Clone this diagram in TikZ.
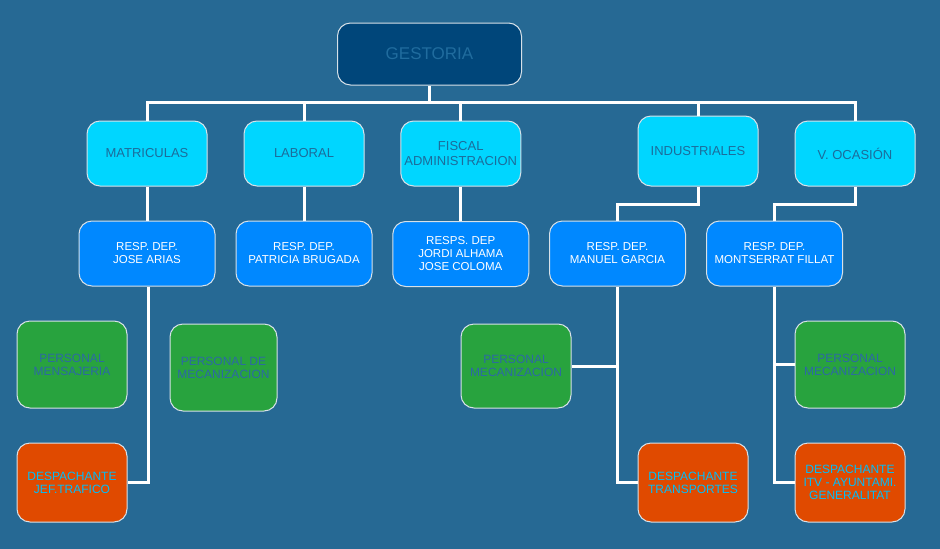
\documentclass[tikz,border=0pt]{standalone}
\usepackage{fontspec}
\setmainfont{Liberation Sans}
\definecolor{bg}{RGB}{38,105,148}
\definecolor{navy}{RGB}{0,70,122}
\definecolor{navytxt}{RGB}{32,108,158}
\definecolor{cyanbox}{RGB}{0,214,255}
\definecolor{cyantxt}{RGB}{28,108,155}
\definecolor{bluebox}{RGB}{0,136,255}
\definecolor{greenbox}{RGB}{40,163,62}
\definecolor{greentxt}{RGB}{45,104,165}
\definecolor{orangebox}{RGB}{224,74,0}
\definecolor{orangetxt}{RGB}{0,190,250}
\definecolor{edge}{RGB}{215,225,232}
\tikzset{
  box/.style={draw=edge, line width=1pt, rounded corners=13pt, align=center, inner sep=0pt},
  topbox/.style={box, fill=navy, text=navytxt, font=\fontsize{17}{20}\selectfont},
  deptbox/.style={box, fill=cyanbox, text=cyantxt, font=\fontsize{13}{14.5}\selectfont, minimum width=120pt},
  respbox/.style={box, fill=bluebox, text=white, font=\fontsize{11.5}{13}\selectfont, minimum width=136pt, minimum height=65pt},
  persbox/.style={box, fill=greenbox, text=greentxt, font=\fontsize{12}{13}\selectfont},
  despbox/.style={box, fill=orangebox, text=orangetxt, font=\fontsize{12}{13}\selectfont, minimum width=110pt, minimum height=79pt},
  link/.style={draw=white, line width=3pt}
}
\begin{document}
\begin{tikzpicture}[x=1pt,y=-1pt]
\useasboundingbox (0,0) rectangle (940,549);
\fill[bg] (0,0) rectangle (940,549);

\node[topbox, minimum width=184pt, minimum height=62pt] (gest) at (429.5,54) {GESTORIA};

\node[deptbox, minimum height=65pt] (mat) at (147,153.5) {MATRICULAS};
\node[deptbox, minimum height=65pt] (lab) at (304,153.5) {LABORAL};
\node[deptbox, minimum height=65pt] (fis) at (460.75,153.5) {FISCAL\\ADMINISTRACION};
\node[deptbox, minimum height=70pt] (ind) at (698,151) {INDUSTRIALES};
\node[deptbox, minimum height=65pt] (vo) at (855,153.5) {V. OCASIÓN};

\node[respbox] (ja) at (147,253.5) {RESP. DEP.\\JOSE ARIAS};
\node[respbox] (pb) at (304,253.5) {RESP. DEP.\\PATRICIA BRUGADA};
\node[respbox] (jc) at (460.75,254) {RESPS. DEP\\JORDI ALHAMA\\JOSE COLOMA};
\node[respbox] (mg) at (617.5,253.5) {RESP. DEP.\\MANUEL GARCIA};
\node[respbox] (mf) at (774.5,253.5) {RESP. DEP.\\MONTSERRAT FILLAT};

\node[persbox, minimum width=110pt, minimum height=87pt] (pmj) at (72,364.5) {PERSONAL\\MENSAJERIA};
\node[persbox, minimum width=107pt, minimum height=87pt] (pdm) at (223.5,367.5) {PERSONAL DE\\MECANIZACION};
\node[persbox, minimum width=110pt, minimum height=84pt] (pm1) at (516,366) {PERSONAL\\MECANIZACION};
\node[persbox, minimum width=110pt, minimum height=87pt] (pm2) at (850,364.5) {PERSONAL\\MECANIZACION};

\node[despbox] (djt) at (72,482.5) {DESPACHANTE\\JEF.TRAFICO};
\node[despbox] (dt) at (693,482.5) {DESPACHANTE\\TRANSPORTES};
\node[despbox] (ditv) at (850,482.5) {DESPACHANTE\\ITV - AYUNTAMI.\\GENERALITAT};

\coordinate (busR) at (855,102);
\draw[link] (mat.north) |- (busR) -- (vo.north);
\draw[link] (gest.south) -- (gest.south |- busR);
\draw[link] (lab.north) -- (lab.north |- busR);
\draw[link] (fis.north) -- (fis.north |- busR);
\draw[link] (ind.north) -- (ind.north |- busR);

\draw[link] (mat.south) -- (ja.north);
\draw[link] (lab.south) -- (pb.north);
\draw[link] (fis.south) -- (jc.north);
\draw[link] (ind.south) -- ++(0,18) -| (mg.north);
\draw[link] (vo.south) -- ++(0,18) -| (mf.north);

\draw[link] ([xshift=1.5pt]ja.south) |- (djt.east);
\draw[link] (mg.south) |- (dt.west);
\draw[link] (pm1.east) -- (pm1.east -| mg.south);
\draw[link] (mf.south) |- (ditv.west);
\draw[link] (pm2.west) -- (pm2.west -| mf.south);
\end{tikzpicture}
\end{document}
